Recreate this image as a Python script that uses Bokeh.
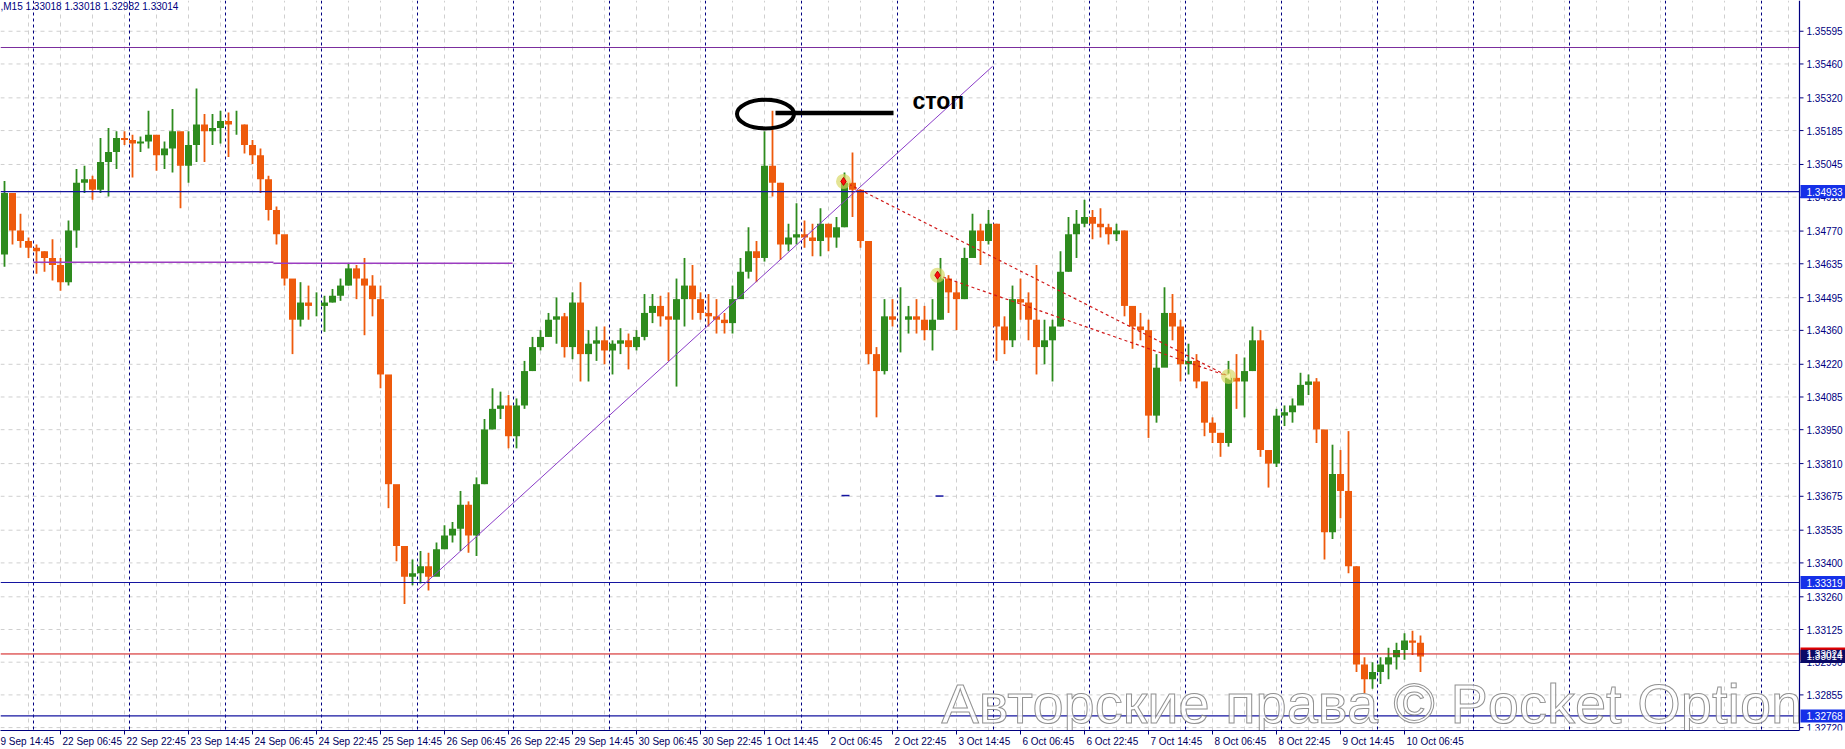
import numpy as np
from bokeh.plotting import figure
from bokeh.models import (ColumnDataSource, FixedTicker, Span, Range1d)
from bokeh.core.properties import value
from bokeh.embed import file_html
from bokeh.resources import INLINE

# ---------------- data (M15 bars aggregated in 2-hour windows) ----------------
first_open = 1.34673
high = [1.34977, 1.34927, 1.34842, 1.34743, 1.34715, 1.34687, 1.34736, 1.34659, 1.34814, 1.35026,
        1.35040, 1.34998, 1.35154, 1.35196, 1.35182, 1.35182, 1.35168, 1.35161, 1.35267, 1.35140,
        1.35140, 1.35274, 1.35154, 1.35182, 1.35359, 1.35253, 1.35253, 1.35267, 1.35260, 1.35267,
        1.35210, 1.35146, 1.35111, 1.34998, 1.34871, 1.34729, 1.34559, 1.34559, 1.34545, 1.34517,
        1.34503, 1.34531, 1.34574, 1.34637, 1.34630,
        1.34659, 1.34588, 1.34545, 1.34149, 1.33683, 1.33428, 1.33414, 1.33449, 1.33442, 1.33484,
        1.33555, 1.33569, 1.33697, 1.33654, 1.33753, 1.33994, 1.34121, 1.34107, 1.34093, 1.34079,
        1.34234, 1.34333, 1.34361, 1.34432, 1.34496, 1.34432, 1.34517, 1.34559, 1.34361, 1.34376,
        1.34376, 1.34319, 1.34369, 1.34347, 1.34361, 1.34510, 1.34510, 1.34503, 1.34517, 1.34574,
        1.34659, 1.34630, 1.34517, 1.34510, 1.34489,
        1.34432, 1.34545, 1.34659, 1.34786, 1.34729, 1.35182, 1.35267, 1.34970, 1.34800, 1.34885,
        1.34814, 1.34800, 1.34864, 1.34800, 1.34828, 1.35012, 1.35094, 1.34828, 1.34729, 1.34291,
        1.34489, 1.34489, 1.34538, 1.34461, 1.34489, 1.34461, 1.34489, 1.34659, 1.34588, 1.34559,
        1.34701, 1.34842, 1.34800, 1.34857, 1.34800, 1.34418, 1.34545, 1.34574, 1.34517, 1.34630,
        1.34404, 1.34404, 1.34687, 1.34828, 1.34857,
        1.34899, 1.34857, 1.34864, 1.34800, 1.34800, 1.34772, 1.34432, 1.34432, 1.34404, 1.34262,
        1.34538, 1.34510, 1.34404, 1.34305, 1.34262, 1.34149, 1.34001, 1.33937, 1.34234, 1.34262,
        1.34248, 1.34376, 1.34361, 1.33866, 1.34036, 1.34050, 1.34079, 1.34185, 1.34178, 1.34163,
        1.33895, 1.33888, 1.33866, 1.33944,
        1.33386, 1.33010, 1.32990, 1.33010, 1.33050, 1.33070, 1.33110, 1.33120, 1.33100]
low = [1.34623, 1.34715, 1.34701, 1.34659, 1.34594, 1.34602, 1.34566, 1.34524, 1.34545, 1.34701,
       1.34927, 1.34899, 1.34927, 1.34913, 1.35026, 1.35125, 1.34991, 1.35097, 1.35111, 1.35019,
       1.35026, 1.35012, 1.34864, 1.34970, 1.35055, 1.35055, 1.35125, 1.35132, 1.35076, 1.35168,
       1.35090, 1.35047, 1.34927, 1.34814, 1.34715, 1.34545, 1.34262, 1.34376, 1.34404, 1.34418,
       1.34354, 1.34475, 1.34482, 1.34545, 1.34489,
       1.34340, 1.34418, 1.34121, 1.33626, 1.33407, 1.33230, 1.33308, 1.33315, 1.33286, 1.33386,
       1.33456, 1.33484, 1.33449, 1.33442, 1.33428, 1.33725, 1.33951, 1.33994, 1.33873, 1.33873,
       1.34036, 1.34192, 1.34277, 1.34333, 1.34305, 1.34248, 1.34241, 1.34149, 1.34149, 1.34234,
       1.34220, 1.34178, 1.34262, 1.34199, 1.34277, 1.34319, 1.34390, 1.34376, 1.34234, 1.34128,
       1.34376, 1.34404, 1.34404, 1.34376, 1.34347,
       1.34347, 1.34347, 1.34531, 1.34574, 1.34559, 1.34644, 1.34913, 1.34651, 1.34687, 1.34715,
       1.34701, 1.34666, 1.34666, 1.34687, 1.34701, 1.34786, 1.34828, 1.34701, 1.34220, 1.34001,
       1.34178, 1.34376, 1.34269, 1.34347, 1.34347, 1.34319, 1.34277, 1.34404, 1.34432, 1.34361,
       1.34489, 1.34687, 1.34630, 1.34715, 1.34234, 1.34262, 1.34291, 1.34404, 1.34319, 1.34178,
       1.34220, 1.34149, 1.34376, 1.34602, 1.34659,
       1.34786, 1.34736, 1.34743, 1.34715, 1.34729, 1.34418, 1.34284, 1.34319, 1.33916, 1.33979,
       1.34262, 1.34319, 1.34149, 1.34178, 1.34121, 1.33923, 1.33895, 1.33838, 1.33880, 1.34036,
       1.34001, 1.34192, 1.33838, 1.33711, 1.33796, 1.33965, 1.33979, 1.34064, 1.34093, 1.33895,
       1.33414, 1.33499, 1.33584, 1.33357,
       1.32950, 1.32862, 1.32880, 1.32900, 1.32920, 1.32960, 1.33000, 1.33020, 1.32950]
close = [1.34927, 1.34772, 1.34729, 1.34701, 1.34687, 1.34659, 1.34630, 1.34559, 1.34772, 1.34970,
         1.34984, 1.34941, 1.35055, 1.35097, 1.35154, 1.35146, 1.35132, 1.35140, 1.35168, 1.35083,
         1.35111, 1.35182, 1.35040, 1.35125, 1.35210, 1.35182, 1.35196, 1.35224, 1.35210, 1.35210,
         1.35125, 1.35083, 1.34984, 1.34857, 1.34757, 1.34574, 1.34404, 1.34475, 1.34461, 1.34461,
         1.34475, 1.34503, 1.34545, 1.34616, 1.34574,
         1.34545, 1.34489, 1.34178, 1.33725, 1.33470, 1.33343, 1.33357, 1.33386, 1.33343, 1.33456,
         1.33513, 1.33541, 1.33640, 1.33513, 1.33725, 1.33951, 1.34036, 1.34050, 1.33923, 1.34050,
         1.34192, 1.34291, 1.34333, 1.34404, 1.34418, 1.34291, 1.34475, 1.34262, 1.34305, 1.34319,
         1.34277, 1.34305, 1.34319, 1.34291, 1.34333, 1.34432, 1.34461, 1.34418, 1.34404, 1.34489,
         1.34545, 1.34489, 1.34432, 1.34418, 1.34404,
         1.34390, 1.34489, 1.34602, 1.34687, 1.34659, 1.35040, 1.34970, 1.34715, 1.34743, 1.34757,
         1.34743, 1.34729, 1.34800, 1.34743, 1.34786, 1.34970, 1.34941, 1.34729, 1.34262, 1.34192,
         1.34418, 1.34404, 1.34404, 1.34418, 1.34404, 1.34361, 1.34404, 1.34574, 1.34517, 1.34489,
         1.34659, 1.34772, 1.34729, 1.34800, 1.34376, 1.34319, 1.34489, 1.34475, 1.34404, 1.34291,
         1.34319, 1.34376, 1.34602, 1.34757, 1.34800,
         1.34828, 1.34800, 1.34786, 1.34757, 1.34772, 1.34461, 1.34376, 1.34361, 1.34008, 1.34206,
         1.34432, 1.34376, 1.34220, 1.34234, 1.34149, 1.33979, 1.33937, 1.33895, 1.34164, 1.34149,
         1.34192, 1.34319, 1.33866, 1.33810, 1.34008, 1.34022, 1.34050, 1.34135, 1.34149, 1.33951,
         1.33527, 1.33767, 1.33697, 1.33386,
         1.32980, 1.32920, 1.32950, 1.32980, 1.33010, 1.33040, 1.33080, 1.33070, 1.33014]

price_ticks = [1.35595, 1.35460, 1.35320, 1.35185, 1.35045, 1.34910, 1.34770, 1.34635, 1.34495,
               1.34360, 1.34220, 1.34085, 1.33950, 1.33810, 1.33675, 1.33535, 1.33400, 1.33260,
               1.33125, 1.32990, 1.32855, 1.32720]
date_labels = ["9 Sep 14:45", "22 Sep 06:45", "22 Sep 22:45", "23 Sep 14:45", "24 Sep 06:45",
               "24 Sep 22:45", "25 Sep 14:45", "26 Sep 06:45", "26 Sep 22:45", "29 Sep 14:45",
               "30 Sep 06:45", "30 Sep 22:45", "1 Oct 14:45", "2 Oct 06:45", "2 Oct 22:45",
               "3 Oct 14:45", "6 Oct 06:45", "6 Oct 22:45", "7 Oct 14:45", "8 Oct 06:45",
               "8 Oct 22:45", "9 Oct 14:45", "10 Oct 06:45"]
header_text = ",M15  1.33018 1.33018 1.32982 1.33014"
watermark_text = "Авторские права © Pocket Option"

# horizontal levels
level_blue = [1.34933, 1.33319, 1.32768]
level_purple_top = 1.35528
purple_short_x0 = [37, 277]
purple_short_x1 = [277, 516]
purple_short_y = [1.34641, 1.34637]
bid_price = 1.33014
ask_price = 1.33024

# trend line and trade lines
trend_x = [421, 996]
trend_y = [1.33287, 1.35450]
trade_open_x = [847, 941]
trade_open_y = [1.34975, 1.34588]
trade_close_x = 1232
trade_close_y = 1.34170
stop_mark_x = [849, 943]
stop_mark_y = [1.33678, 1.33676]

# hand-drawn annotation
ell_x, ell_y, ell_w, ell_h = 769, 1.35253, 57, 0.00118
stroke_x = [779, 897]
stroke_y = [1.35257, 1.35257]
stop_text_x, stop_text_y = 916, 1.35309

# ---------------- figure ----------------
X0, XAX, X1 = 4, 1803, 1849          # chart start, price-axis position, right edge (bar index units)
Y1 = 1.35722
Y0 = 1.32708
NAVY = "#000080"
FONT = value("Liberation Sans")

n = min(len(high), len(low), len(close))
high, low, close = high[:n], low[:n], close[:n]
bar_x = np.arange(n) * 8 + 8
open_ = [first_open] + close[:-1]
UP, DOWN = "#2E8B1E", "#EE5A0C"
src = ColumnDataSource(dict(
    x=bar_x, hi=high, lo=low,
    top=[max(o, c) for o, c in zip(open_, close)],
    bot=[min(o, c) for o, c in zip(open_, close)],
    color=[UP if c >= o else DOWN for o, c in zip(open_, close)]))

W, H = 1845, 749
p = figure(width=W, height=H, output_backend="svg", toolbar_location=None,
           x_range=Range1d(X0, X1), y_range=Range1d(Y0, Y1),
           y_axis_location=None, min_border_left=0, min_border_top=0,
           min_border_right=0, min_border_bottom=18)
p.outline_line_color = None
p.background_fill_color = "white"
p.border_fill_color = "white"

# x axis (time): labels start at their tick, MT4 style
cw = {" ": 2.78, ":": 2.78, "S": 6.67, "e": 5.56, "p": 5.56, "O": 7.78, "c": 5.0, "t": 2.78}
date_idx = np.arange(len(date_labels)) * 64
label_start = [max(float(i) + 2, X0) for i in date_idx]
label_center = [s + sum(cw.get(ch, 5.56) for ch in t) / 2 for s, t in zip(label_start, date_labels)]
p.xaxis.ticker = FixedTicker(ticks=label_center, minor_ticks=[float(i) for i in date_idx])
p.xaxis.major_label_overrides = {c: t for c, t in zip(label_center, date_labels)}
p.xaxis.bounds = (X0, XAX)
p.xaxis.axis_line_color = NAVY
p.xaxis.major_tick_line_color = None
p.xaxis.major_tick_out = 0
p.xaxis.major_tick_in = 0
p.xaxis.minor_tick_line_color = NAVY
p.xaxis.minor_tick_out = 4
p.xaxis.minor_tick_in = 0
p.xaxis.major_label_text_font = "Liberation Sans"
p.xaxis.major_label_text_font_size = "10px"
p.xaxis.major_label_text_color = "#000060"
p.xaxis.major_label_standoff = 1

# grids
p.xgrid.ticker = FixedTicker(ticks=list(np.arange(32, XAX, 32)))
p.xgrid.grid_line_color = "#CFCFCF"
p.xgrid.grid_line_dash = "4 4"
for g in p.ygrid:
    g.grid_line_color = None
p.segment(x0=X0, y0=price_ticks, x1=XAX, y1=price_ticks, line_color="#CFCFCF",
          line_dash="4 4", line_width=1, level="underlay")

# day separators
for d in np.arange(37, XAX, 96):
    p.add_layout(Span(location=float(d), dimension="height", line_color=NAVY,
                      line_dash="3 3", line_width=1, level="underlay"))

# bars
p.segment(x0="x", y0="lo", x1="x", y1="hi", line_color="color", line_width=1.8, source=src)
p.vbar(x="x", width=7, top="top", bottom="bot", fill_color="color", line_color=None, source=src)

# horizontal levels
p.segment(x0=X0, y0=level_blue, x1=XAX, y1=level_blue, line_color="#1414A0", line_width=1.2)
p.segment(x0=X0, y0=level_purple_top, x1=XAX, y1=level_purple_top, line_color="#7B2E9E", line_width=1.2)
p.segment(x0=purple_short_x0, y0=purple_short_y, x1=purple_short_x1, y1=purple_short_y,
          line_color="#9B3DC0", line_width=1.5)
p.segment(x0=X0, y0=ask_price, x1=XAX, y1=ask_price, line_color="#D01010", line_width=1)

# trend line
p.line(trend_x, trend_y, line_color="#8A3CC8", line_width=1)
# trade lines
for tx, ty in zip(trade_open_x, trade_open_y):
    p.line([tx, trade_close_x], [ty, trade_close_y], line_color="#D01818",
           line_dash="3 3", line_width=1.2)
p.scatter(trade_open_x + [trade_close_x], trade_open_y + [trade_close_y], size=15,
          fill_color="#D6D65A", fill_alpha=0.65, line_color=None)
p.scatter(trade_open_x, trade_open_y, marker="diamond", size=8, fill_color="#FF1010", line_color="#C00000")
p.scatter([trade_close_x], [trade_close_y], marker="triangle", angle=np.pi / 2, size=7,
          fill_color="#F4F4B0", line_color="#E0E080")
p.scatter(stop_mark_x, stop_mark_y, marker="dash", size=8, line_color="#1414A0", line_width=1.5)

# hand-drawn annotation
p.ellipse(x=[ell_x], y=[ell_y], width=[ell_w], height=[ell_h], fill_color=None,
          line_color="black", line_width=4)
p.line(stroke_x, stroke_y, line_color="black", line_width=4.5)
p.text(x=[stop_text_x], y=[stop_text_y], text=["стоп"], text_font=FONT,
       text_font_style="bold", text_font_size=value("23px"), text_color="black",
       text_baseline="middle", text_align="left")

# header
p.text(x=[X0], y=[1.35699], text=[header_text], text_font=FONT, text_font_size=value("10px"),
       text_color=NAVY, text_baseline="middle", text_align="left")

# price scale (right side of the chart window)
p.segment(x0=XAX, y0=Y0, x1=XAX, y1=Y1, line_color=NAVY, line_width=1.2)
p.segment(x0=XAX, y0=price_ticks, x1=XAX + 4, y1=price_ticks, line_color=NAVY, line_width=1)
p.text(x=XAX + 7, y=price_ticks, text=[f"{t:.5f}" for t in price_ticks], text_font=FONT,
       text_font_size=value("10px"), text_color=NAVY, text_baseline="middle", text_align="left")

box_price = [ask_price, level_blue[0], level_blue[1], level_blue[2], bid_price]
box_color = ["#E00000", "#1530E8", "#1530E8", "#1530E8", "#0A0A66"]
box_src = ColumnDataSource(dict(y=box_price, color=box_color,
                                text=[f"{v:.5f}" for v in box_price]))
p.rect(x=(XAX + 1 + X1) / 2, y="y", width=X1 - XAX - 1, height=0.00054, fill_color="color",
       line_color=None, source=box_src)
p.text(x=XAX + 7, y="y", text="text", text_font=FONT, text_font_size=value("10px"),
       text_color="white", text_baseline="middle", text_align="left", source=box_src)

# watermark (outlined light text over the chart)
wm_kw = dict(x=[945], y=[1.32688], text=[watermark_text], text_font=FONT,
             text_font_size=value("56px"), text_color="white", text_alpha=0.85,
             text_baseline="bottom", text_align="left")
try:
    p.text(text_outline_color="#7E7E7E", **wm_kw)
except Exception:
    p.text(**dict(wm_kw, text_color="#C4C4C4"))

open("out.html", "w").write(file_html(p, INLINE))
